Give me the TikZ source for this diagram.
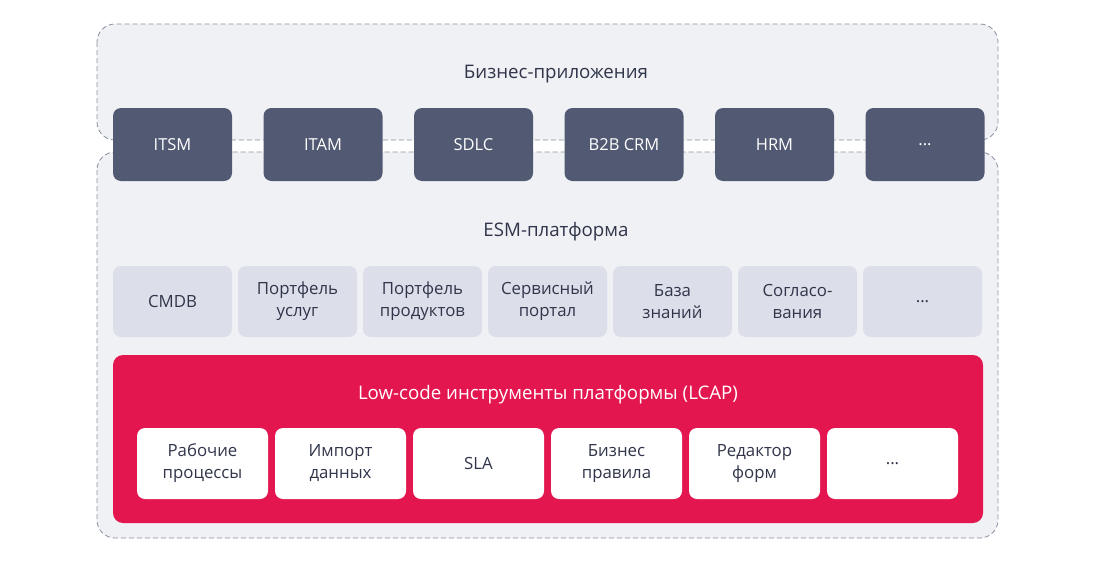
\documentclass[tikz,border=0pt]{standalone}
\usepackage{fontspec}
\setmainfont{Open Sans}
\definecolor{contfill}{HTML}{F0F1F5}
\definecolor{dashcol}{HTML}{8A8F9F}
\definecolor{darkbox}{HTML}{525A73}
\definecolor{lightbox}{HTML}{DCDFEA}
\definecolor{redbox}{HTML}{E31650}
\definecolor{txt}{HTML}{30354A}
\def\mydots{...}
\begin{document}
\begin{tikzpicture}[x=1pt,y=-1pt,
  container/.style={draw=dashcol, dash pattern=on 5pt off 3pt, fill=contfill, rounded corners=18pt, line width=0.8pt},
  appbox/.style={fill=darkbox, rounded corners=8pt, minimum width=119pt, minimum height=73pt, text=white, font=\fontsize{16.5}{20}\selectfont, inner sep=0pt},
  modbox/.style={fill=lightbox, rounded corners=8pt, minimum width=119pt, minimum height=71pt, text=txt, font=\fontsize{16.8}{22}\selectfont, align=center, inner sep=0pt},
  toolbox/.style={fill=white, rounded corners=8pt, minimum width=131pt, minimum height=71pt, text=txt, font=\fontsize{16.8}{22}\selectfont, align=center, inner sep=0pt},
  title/.style={font=\fontsize{18.7}{22}\selectfont, text=txt}
]
\useasboundingbox (0,0) rectangle (1096,563);
\fill[white] (0,0) rectangle (1096,563);
% containers
\draw[container] (97,24) rectangle (998,140);
\draw[container] (97,152) rectangle (998,538);
\node[title] (tbiz) at (556,74) {Бизнес-приложения};
\node[title] (tesm) at (556,232) {ESM-платформа};
% app boxes
\foreach \n/\t [count=\i from 0] in {a1/ITSM,a2/ITAM,a3/SDLC,a4/B2B CRM,a5/HRM,a6/\mydots}
  \node[appbox] (\n) at ({172.5+150.5*\i},144.5) {\t};
% module boxes
\foreach \n/\t [count=\i from 0] in {m1/CMDB,m2/{Портфель\\услуг},m3/{Портфель\\продуктов},m4/{Сервисный\\портал},m5/{База\\знаний},m6/{Согласо-\\вания},m7/\mydots}
  \node[modbox] (\n) at ({172.5+125*\i},301.5) {\t};
% LCAP
\node[fill=redbox, rounded corners=10pt, minimum width=870pt, minimum height=168pt, inner sep=0pt] (lcap) at (548,439) {};
\node[font=\fontsize{18.7}{22}\selectfont, text=white] (tlcap) at (548,394.5) {Low-code инструменты платформы (LCAP)};
\foreach \n/\t [count=\i from 0] in {w1/{Рабочие\\процессы},w2/{Импорт\\данных},w3/SLA,w4/{Бизнес\\правила},w5/{Редактор\\форм},w6/\mydots}
  \node[toolbox] (\n) at ({202.5+138*\i},463.5) {\t};
\end{tikzpicture}
\end{document}
